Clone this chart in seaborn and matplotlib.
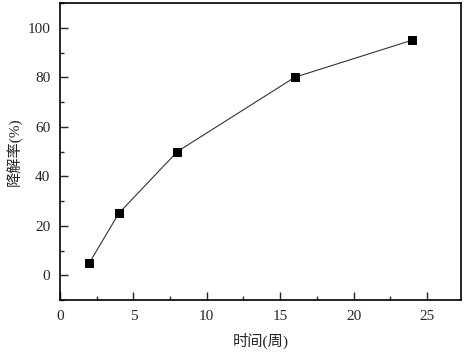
import seaborn as sns
import pandas as pd
import matplotlib.pyplot as plt
from matplotlib.ticker import MultipleLocator

# degradation data
weeks = [2, 4, 8, 16, 24]
degradation = [5, 25, 50, 80, 95]

df = pd.DataFrame({'weeks': weeks, 'degradation': degradation})

sns.set_style('ticks')
plt.rcParams['font.family'] = ['Liberation Serif', 'Noto Sans CJK SC']
plt.rcParams['xtick.direction'] = 'in'
plt.rcParams['ytick.direction'] = 'in'

fig = plt.figure(figsize=(4.67, 3.53), dpi=100)
ax = fig.add_axes([0.1285, 0.150, 0.858, 0.8415])

sns.lineplot(data=df, x='weeks', y='degradation', ax=ax, color='#333333',
             linewidth=0.8, marker='s', markersize=5.3,
             markerfacecolor='black', markeredgecolor='black')

ax.set_xlim(0, 27.3)
ax.set_ylim(-10, 110)
ax.xaxis.set_major_locator(MultipleLocator(5))
ax.xaxis.set_minor_locator(MultipleLocator(2.5))
ax.yaxis.set_major_locator(MultipleLocator(20))
ax.yaxis.set_minor_locator(MultipleLocator(10))
ax.tick_params(which='major', length=6, width=1, labelsize=11, pad=7)
ax.tick_params(which='minor', length=3, width=1)
for side in ax.spines.values():
    side.set_linewidth(1.2)
    side.set_color('black')

ax.set_xlabel('时间(周)', fontsize=11, labelpad=7)
ax.set_ylabel('降解率(%)', fontsize=11, labelpad=4)

fig.savefig('out.png', dpi=100)
